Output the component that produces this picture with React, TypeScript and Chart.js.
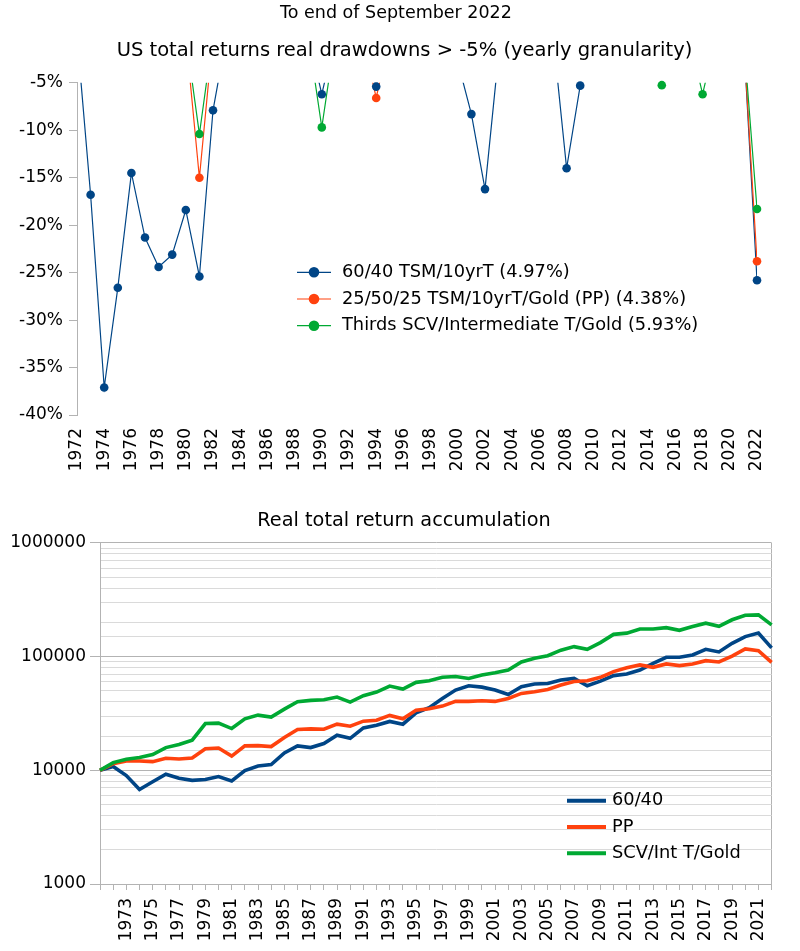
import React, { useEffect, useRef } from 'react';
import { Chart, registerables } from 'chart.js';

Chart.register(...registerables);

const BLUE = '#004586';
const ORANGE = '#ff420e';
const GREEN = '#00a933';
const AXIS = '#b3b3b3';
const MINOR = '#dadada';
const FONT = '"DejaVu Sans", sans-serif';

// ---------- Drawdown chart data (yearly, %) ----------
const drawdownYears = [
  '1972', '1973', '1974', '1975', '1976', '1977', '1978', '1979', '1980', '1981',
  '1982', '1983', '1984', '1985', '1986', '1987', '1988', '1989', '1990', '1991',
  '1992', '1993', '1994', '1995', '1996', '1997', '1998', '1999', '2000', '2001',
  '2002', '2003', '2004', '2005', '2006', '2007', '2008', '2009', '2010', '2011',
  '2012', '2013', '2014', '2015', '2016', '2017', '2018', '2019', '2020', '2021',
  '2022',
];
const drawdown6040 = [
  0, -16.8, -37.1, -26.6, -14.5, -21.3, -24.4, -23.1, -18.4, -25.4,
  -7.9, 0, 0, 0, 0, 0, 0, 0, -6.2, 0,
  0, 0, -5.4, 0, 0, 0, 0, 0, -2.8, -8.3,
  -16.2, -2.0, 0, 0, 0, 0, -14.0, -5.3, 0, 0,
  0, 0, 0, 0, 0, 0, 0, 0, 0, 0,
  -25.8,
];
const drawdownPP = [
  0, 0, 0, 0, 0, 0, 0, 0, 0, -15.0,
  0, 0, 0, 0, 0, 0, 0, 0, 0, 0,
  0, 0, -6.6, 0, 0, 0, 0, 0, 0, 0,
  0, 0, 0, 0, 0, 0, 0, 0, 0, 0,
  0, 0, 0, 0, 0, 0, 0, 0, 0, 0,
  -23.8,
];
const drawdownThirds = [
  0, 0, 0, 0, 0, 0, 0, 0, 0, -10.4,
  0, 0, 0, 0, 0, 0, 0, 0, -9.7, 0,
  0, 0, 0, 0, 0, 0, 0, 0, 0, 0,
  0, 0, 0, 0, 0, 0, 0, 0, 0, 0,
  0, 0, 0, -5.25, 0, 0, -6.2, 0, 0, 0,
  -18.3,
];
const drawdownSeriesLabels = [
  '60/40 TSM/10yrT (4.97%)',
  '25/50/25 TSM/10yrT/Gold (PP) (4.38%)',
  'Thirds SCV/Intermediate T/Gold (5.93%)',
];

// ---------- Accumulation chart data ----------
const accumYears = [
  'Start', '1972', '1973', '1974', '1975', '1976', '1977', '1978', '1979', '1980',
  '1981', '1982', '1983', '1984', '1985', '1986', '1987', '1988', '1989', '1990',
  '1991', '1992', '1993', '1994', '1995', '1996', '1997', '1998', '1999', '2000',
  '2001', '2002', '2003', '2004', '2005', '2006', '2007', '2008', '2009', '2010',
  '2011', '2012', '2013', '2014', '2015', '2016', '2017', '2018', '2019', '2020',
  '2021', '2022',
];
const accum6040 = [
  10000, 10800, 8990, 6790, 7930, 9230, 8500, 8160, 8300, 8810,
  8060, 9950, 10920, 11220, 14220, 16400, 15850, 17200, 20360, 19100,
  23600, 24900, 26900, 25450, 32000, 35500, 42900, 50800, 55500, 53900,
  50900, 46500, 54400, 57400, 58100, 62300, 64300, 55500, 60900, 68100,
  70400, 76300, 87400, 98700, 98700, 103400, 116000, 110000, 131000, 150000,
  161000, 119500,
];
const accumPP = [
  10000, 11450, 12090, 12090, 11920, 12760, 12590, 12850, 15500, 15700,
  13345, 16400, 16500, 16180, 19420, 22840, 23170, 23000, 25470, 24460,
  27060, 27600, 30400, 28400, 33800, 34800, 36700, 40400, 40400, 40900,
  40400, 42900, 47500, 49100, 51500, 56200, 60500, 61300, 65800, 73800,
  80000, 84500, 80500, 86300, 83400, 86300, 92200, 89700, 101000, 117000,
  113000, 89200,
];
const accumThirds = [
  10000, 11690, 12500, 12940, 13750, 15850, 16850, 18400, 25800, 26000,
  23300, 28400, 30600, 29400, 34500, 40100, 41200, 41700, 44100, 39800,
  45300, 48800, 55100, 51800, 59400, 61300, 65800, 66800, 64300, 68900,
  72200, 76300, 89700, 96700, 102000, 114000, 122500, 116000, 133000, 157000,
  161000, 175000, 175000, 180000, 170500, 184000, 197000, 184800, 211000, 231000,
  233000, 190400,
];
const accumSeriesLabels = ['60/40', 'PP', 'SCV/Int T/Gold'];

const isPow10 = (v: number) => {
  if (!(v > 0)) return false;
  const l = Math.log10(v);
  return Math.abs(l - Math.round(l)) < 1e-9;
};

// Legend drawn inside the plot area
const inlineLegend = {
  id: 'inlineLegend',
  afterDraw(chart: any, _args: any, opts: any) {
    if (!opts || !opts.show) return;
    const ctx = chart.ctx;
    const items = chart.data.datasets.filter((d: any) => d.inLegend);
    ctx.save();
    ctx.font = `${opts.fontSize}px ${FONT}`;
    ctx.textBaseline = 'middle';
    ctx.textAlign = 'left';
    items.forEach((d: any, i: number) => {
      const y = opts.y + i * opts.spacing;
      ctx.strokeStyle = d.borderColor;
      ctx.lineWidth = opts.lineWidth;
      ctx.beginPath();
      ctx.moveTo(opts.x, y);
      ctx.lineTo(opts.x + opts.lineLength, y);
      ctx.stroke();
      if (opts.markerRadius) {
        ctx.fillStyle = d.borderColor;
        ctx.beginPath();
        ctx.arc(opts.x + opts.lineLength / 2, y, opts.markerRadius, 0, Math.PI * 2);
        ctx.fill();
      }
      ctx.fillStyle = '#000';
      ctx.fillText(d.label, opts.x + opts.lineLength + opts.gap, y);
    });
    ctx.restore();
  },
};

// invisible right-hand spacer axis (keeps titles centred on the full width)
const spacerAxis = (w: number) => ({
  type: 'linear',
  position: 'right',
  display: true,
  grid: { display: false, drawTicks: false },
  border: { display: false },
  ticks: { display: false },
  afterFit: (s: any) => {
    s.width = w;
  },
});

function DrawdownChart() {
  const ref = useRef<HTMLCanvasElement | null>(null);
  useEffect(() => {
    if (!ref.current) return;
    const series = [
      { data: drawdown6040, color: BLUE, label: drawdownSeriesLabels[0] },
      { data: drawdownPP, color: ORANGE, label: drawdownSeriesLabels[1] },
      { data: drawdownThirds, color: GREEN, label: drawdownSeriesLabels[2] },
    ];
    const lineSets = series.map((s, k) => ({
      label: s.label,
      data: s.data,
      borderColor: s.color,
      backgroundColor: s.color,
      borderWidth: 1.2,
      pointRadius: 0,
      tension: 0,
      clip: 0,
      order: 20 - k,
      yAxisID: 'y',
      inLegend: true,
    }));
    const pointSets = series.map((s, k) => ({
      label: s.label + ' points',
      data: s.data,
      showLine: false,
      borderColor: s.color,
      pointBackgroundColor: s.color,
      pointBorderWidth: 0,
      pointRadius: (c: any) => (c.raw < -5 ? 4.3 : 0),
      clip: false,
      order: 10 - k,
      yAxisID: 'y',
    }));
    const chart = new Chart(ref.current, {
      type: 'line',
      data: { labels: drawdownYears, datasets: [...lineSets, ...pointSets] as any },
      plugins: [inlineLegend],
      options: {
        animation: false,
        responsive: true,
        maintainAspectRatio: false,
        events: [],
        layout: { padding: { left: 9, right: 0, top: 0, bottom: 0 } },
        plugins: {
          legend: { display: false },
          tooltip: { enabled: false },
          title: {
            display: true,
            text: 'US total returns real drawdowns > -5% (yearly granularity)',
            color: '#000',
            font: { family: FONT, size: 19.5, weight: 'normal' },
            padding: { top: 39, bottom: 20.4 },
          },
          inlineLegend: {
            show: true,
            x: 297,
            y: 272.3,
            spacing: 26.7,
            lineLength: 34,
            lineWidth: 1.2,
            markerRadius: 5.3,
            gap: 11,
            fontSize: 17.8,
          },
        } as any,
        scales: {
          x: {
            type: 'category',
            grid: { display: false, drawTicks: false },
            border: { display: false },
            ticks: {
              autoSkip: false,
              minRotation: 90,
              maxRotation: 90,
              padding: 13,
              color: '#000',
              font: { family: FONT, size: 17 },
              callback: (_v: any, i: number) => (i % 2 === 0 ? drawdownYears[i] : ''),
            },
            afterFit: (s: any) => {
              s.height = 63;
            },
          },
          y: {
            min: -40,
            max: -5,
            ticks: {
              stepSize: 5,
              padding: 6,
              color: '#000',
              font: { family: FONT, size: 17 },
              callback: (v: any) => `${v}%`,
            },
            grid: { drawOnChartArea: false, drawTicks: true, tickLength: 8, color: AXIS },
            border: { display: true, color: AXIS },
            afterFit: (s: any) => {
              s.width = 68;
            },
          },
          spacer: spacerAxis(43),
        },
      } as any,
    });
    return () => chart.destroy();
  }, []);
  return <canvas ref={ref} />;
}

function AccumulationChart() {
  const ref = useRef<HTMLCanvasElement | null>(null);
  useEffect(() => {
    if (!ref.current) return;
    const series = [
      { data: accum6040, color: BLUE, label: accumSeriesLabels[0] },
      { data: accumPP, color: ORANGE, label: accumSeriesLabels[1] },
      { data: accumThirds, color: GREEN, label: accumSeriesLabels[2] },
    ];
    const lastIndex = accumYears.length - 1;
    const chart = new Chart(ref.current, {
      type: 'line',
      data: {
        labels: accumYears,
        datasets: series.map((s, k) => ({
          label: s.label,
          data: s.data,
          borderColor: s.color,
          backgroundColor: s.color,
          borderWidth: 3.6,
          pointRadius: 0,
          tension: 0,
          order: 10 - k,
          yAxisID: 'y',
          inLegend: true,
        })) as any,
      },
      plugins: [inlineLegend],
      options: {
        animation: false,
        responsive: true,
        maintainAspectRatio: false,
        events: [],
        layout: { padding: { left: 8, right: 0, top: 0, bottom: 0 } },
        plugins: {
          legend: { display: false },
          tooltip: { enabled: false },
          title: {
            display: true,
            text: 'Real total return accumulation',
            color: '#000',
            font: { family: FONT, size: 19.3, weight: 'normal' },
            padding: { top: 31, bottom: 10.8 },
          },
          inlineLegend: {
            show: true,
            x: 567,
            y: 322.7,
            spacing: 26.3,
            lineLength: 39,
            lineWidth: 4,
            markerRadius: 0,
            gap: 6,
            fontSize: 17.8,
          },
        } as any,
        scales: {
          x: {
            type: 'category',
            grid: {
              display: true,
              drawOnChartArea: true,
              drawTicks: true,
              tickLength: 6,
              color: (c: any) => (c.index === lastIndex ? AXIS : 'rgba(0,0,0,0)'),
              tickColor: AXIS,
            },
            border: { display: true, color: AXIS },
            ticks: {
              autoSkip: false,
              minRotation: 90,
              maxRotation: 90,
              padding: 8,
              color: '#000',
              font: { family: FONT, size: 17 },
              callback: (_v: any, i: number) => (i > 0 && i % 2 === 0 ? accumYears[i] : ''),
            },
            afterFit: (s: any) => {
              s.height = 67;
            },
          },
          y: {
            type: 'logarithmic',
            min: 1000,
            max: 1000000,
            ticks: {
              autoSkip: false,
              padding: 4,
              color: '#000',
              font: { family: FONT, size: 17 },
              callback: (v: any) => (isPow10(Number(v)) ? String(v) : ''),
            },
            grid: {
              drawTicks: true,
              tickLength: 10,
              color: (c: any) => (c.tick && isPow10(c.tick.value) ? AXIS : MINOR),
              tickColor: (c: any) => (c.tick && isPow10(c.tick.value) ? AXIS : 'rgba(0,0,0,0)'),
            },
            border: { display: true, color: AXIS },
            afterFit: (s: any) => {
              s.width = 92;
            },
          },
          spacer: spacerAxis(20),
        },
      } as any,
    });
    return () => chart.destroy();
  }, []);
  return <canvas ref={ref} />;
}

export default function App() {
  return (
    <div style={{ position: 'absolute', left: 0, top: 0, width: 800, height: 951, background: '#fff' }}>
      <div style={{ position: 'absolute', left: 0, top: 0, width: 800, height: 478 }}>
        <DrawdownChart />
      </div>
      <div
        style={{
          position: 'absolute',
          left: 0,
          top: 2.2,
          width: 792,
          textAlign: 'center',
          fontFamily: FONT,
          fontSize: 17.5,
          lineHeight: '20px',
          color: '#000',
          pointerEvents: 'none',
        }}
      >
        To end of September 2022
      </div>
      <div style={{ position: 'absolute', left: 0, top: 478, width: 800, height: 473 }}>
        <AccumulationChart />
      </div>
    </div>
  );
}
